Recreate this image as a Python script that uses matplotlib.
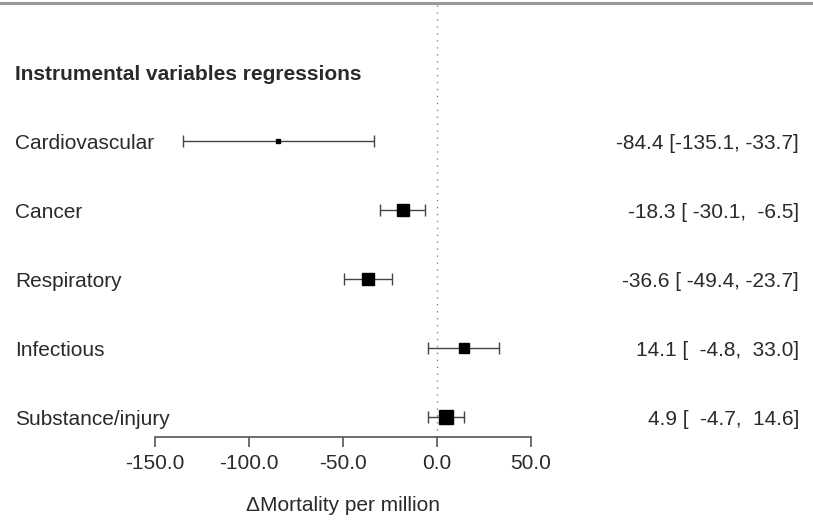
import matplotlib
matplotlib.use("Agg")
import matplotlib.pyplot as plt
from matplotlib.ticker import FormatStrFormatter

plt.rcParams['font.family'] = ['Liberation Sans', 'DejaVu Sans']

# data
header = "Instrumental variables regressions"
outcomes = ["Cardiovascular", "Cancer", "Respiratory", "Infectious", "Substance/injury"]
estimate = [-84.4, -18.3, -36.6, 14.1, 4.9]
ci_low = [-135.1, -30.1, -49.4, -4.8, -4.7]
ci_high = [-33.7, -6.5, -23.7, 33.0, 14.6]
box_size = [3.0, 8.6, 8.3, 6.5, 10.4]   # marker size (precision weight)
xticks = [-150, -100, -50, 0, 50]

fig = plt.figure(figsize=(8.13, 5.22), dpi=100)
ax = fig.add_axes([0, 0, 1, 1])
ax.set_xlim(-232.45, 200.0)
ax.set_ylim(6.522, -1.043)

txt = '#2a2a2a'
fs = 15
rows = list(range(1, len(outcomes) + 1))
dy = 0.03  # nudge text down a touch

# top rule and zero line
ax.axhline(-0.993, color='#9a9a9a', lw=2.2)
ax.plot([0, 0], [-0.97, 5.29], color='#888888', lw=1.0, linestyle=(0, (1, 4)))

for r, name, e, lo, hi, s in zip(rows, outcomes, estimate, ci_low, ci_high, box_size):
    ax.errorbar(e, r, xerr=[[e - lo], [hi - e]], fmt='s', color='black',
                ecolor='#444444', elinewidth=1.0, capsize=4, capthick=1.0,
                markersize=s, zorder=3)
    ax.text(-224.5, r + dy, name, fontsize=fs, color=txt, ha='left', va='center')
    ax.text(192.5, r + dy, f"{e:.1f} [{lo:6.1f}, {hi:5.1f}]", fontsize=fs,
            color=txt, ha='right', va='center')

ax.text(-224.5, dy, header, fontsize=fs, fontweight='bold', color=txt,
        ha='left', va='center')

# x axis
for sp in ['top', 'left', 'right']:
    ax.spines[sp].set_visible(False)
ax.spines['bottom'].set_position(('data', 5.29))
ax.spines['bottom'].set_bounds(-150, 50)
ax.spines['bottom'].set_color('#555555')
ax.spines['bottom'].set_linewidth(1.2)
ax.set_xticks(xticks)
ax.xaxis.set_major_formatter(FormatStrFormatter('%.1f'))
ax.tick_params(axis='x', length=7.5, width=1.2, color='#555555',
               labelsize=fs, labelcolor=txt, pad=5)
ax.set_yticks([])
ax.text(-50, 6.29, "ΔMortality per million", fontsize=fs, color=txt,
        ha='center', va='center')

fig.savefig("out.png", dpi=100)
